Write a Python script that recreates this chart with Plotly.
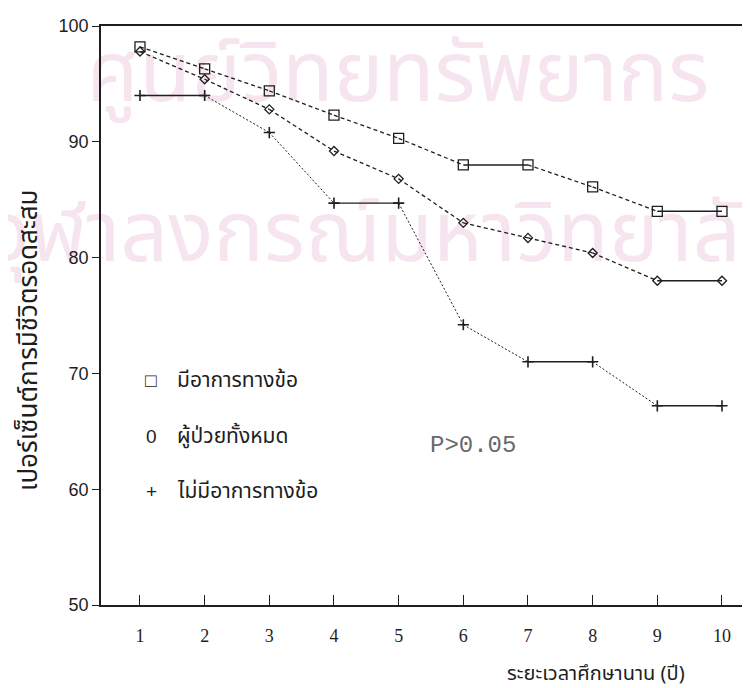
import plotly.graph_objects as go

years = [1, 2, 3, 4, 5, 6, 7, 8, 9, 10]
with_joint = [98.2, 96.3, 94.4, 92.3, 90.3, 88.0, 88.0, 86.1, 84.0, 84.0]
all_patients = [97.8, 95.4, 92.8, 89.2, 86.8, 83.0, 81.7, 80.4, 78.0, 78.0]
without_joint = [94.0, 94.0, 90.8, 84.7, 84.7, 74.2, 71.0, 71.0, 67.2, 67.2]

series_names = ["มีอาการทางข้อ", "ผู้ป่วยทั้งหมด", "ไม่มีอาการทางข้อ"]
legend_symbols = ["□", "0", "+"]
y_ticks = [50, 60, 70, 80, 90, 100]
watermark_lines = ["ศูนย์วิทยทรัพยากร", "จุฬาลงกรณ์มหาวิทยาลัย"]

THAI = "Noto Sans Thai, Loma, Garuda, Norasi, Tlwg Typo, Noto Sans, sans-serif"
INK = "#1e1e1e"
WM = "#f6e4ee"

X0, X1 = 0.397, 10.557
Y0, Y1 = 50, 100
L, T, W, H = 93, 18, 657, 579


def px_x(px):
    return (px - L) / W


def px_y(py):
    return 1 - (py - T) / H


def dx(px):
    return X0 + (px - L) / W * (X1 - X0)


def dy(py):
    return Y1 - (py - T) / H * (Y1 - Y0)


fig = go.Figure()

# faint watermark behind everything (drawn first, below axes labels)
fig.add_trace(go.Scatter(
    x=[dx(390), dx(380)], y=[dy(72), dy(232)], mode="text",
    text=watermark_lines, textposition="middle center",
    textfont=dict(family=THAI, size=84, color=WM),
    cliponaxis=False, showlegend=False, hoverinfo="skip"))

styles = [
    (with_joint, "4px,3px", 1.3, dict(symbol="square-open", size=10, color=INK, line=dict(width=1.3, color=INK))),
    (all_patients, "4px,3px", 1.3, dict(symbol="diamond-open", size=7, color=INK, line=dict(width=1.3, color=INK))),
    (without_joint, "2px,2px", 1.0, dict(symbol="cross-thin", size=8, color=INK, line=dict(width=1.6, color=INK))),
]

for vals, dash, lw, mk in styles:
    for i in range(len(years) - 1):
        flat = vals[i] == vals[i + 1]
        fig.add_trace(go.Scatter(
            x=[years[i], years[i + 1]], y=[vals[i], vals[i + 1]],
            mode="lines",
            line=dict(color=INK, width=1.4 if flat else lw, dash="solid" if flat else dash),
            showlegend=False, hoverinfo="skip"))
    fig.add_trace(go.Scatter(x=years, y=vals, mode="markers", marker=mk,
                             showlegend=False))

annotations = []
legend_rows_y = [372, 428, 483]
for sym, name, py in zip(legend_symbols, series_names, legend_rows_y):
    annotations.append(dict(text=sym, xref="paper", yref="paper",
                            x=px_x(143), y=px_y(py), xanchor="center", yanchor="middle",
                            showarrow=False, font=dict(family="Liberation Sans", size=19, color=INK)))
    annotations.append(dict(text=name, xref="paper", yref="paper",
                            x=px_x(167), y=px_y(py), xanchor="left", yanchor="middle",
                            showarrow=False, font=dict(family=THAI, size=21, color=INK)))

annotations.append(dict(text="P>0.05", xref="paper", yref="paper",
                        x=px_x(420), y=px_y(437), xanchor="left", yanchor="middle",
                        showarrow=False, font=dict(family="Liberation Mono", size=24, color="#6a6a6a")))

annotations.append(dict(text="ระยะเวลาศึกษานาน (ปี)", xref="paper", yref="paper",
                        x=px_x(588), y=px_y(666), xanchor="center", yanchor="middle",
                        showarrow=False, font=dict(family=THAI, size=20, color=INK)))

annotations.append(dict(text="เปอร์เซ็นต์การมีชีวิตรอดสะสม", xref="paper", yref="paper",
                        x=px_x(21), y=px_y(332), xanchor="center", yanchor="middle",
                        textangle=-90, showarrow=False,
                        font=dict(family=THAI, size=26, color=INK)))

fig.update_layout(
    width=750, height=688,
    margin=dict(l=L, r=0, t=T, b=688 - T - H),
    paper_bgcolor="white", plot_bgcolor="white",
    annotations=annotations,
    showlegend=False,
    xaxis=dict(range=[X0, X1], tickmode="array", tickvals=years,
               ticktext=[str(v) for v in years],
               showgrid=False, zeroline=False, showline=True, linecolor=INK, linewidth=1.5,
               mirror=True, ticks="inside", ticklen=10, tickwidth=1, tickcolor=INK,
               ticklabelstandoff=14,
               tickfont=dict(family="Liberation Serif", size=18, color=INK)),
    yaxis=dict(range=[Y0, Y1], tickmode="array", tickvals=y_ticks,
               ticktext=[str(v) for v in y_ticks],
               showgrid=False, zeroline=False, showline=True, linecolor=INK, linewidth=1.5,
               ticks="outside", ticklen=7, tickwidth=1, tickcolor=INK,
               tickfont=dict(family="Liberation Sans Narrow, Liberation Sans", size=18, color=INK)),
)

fig.write_html("out.html")
